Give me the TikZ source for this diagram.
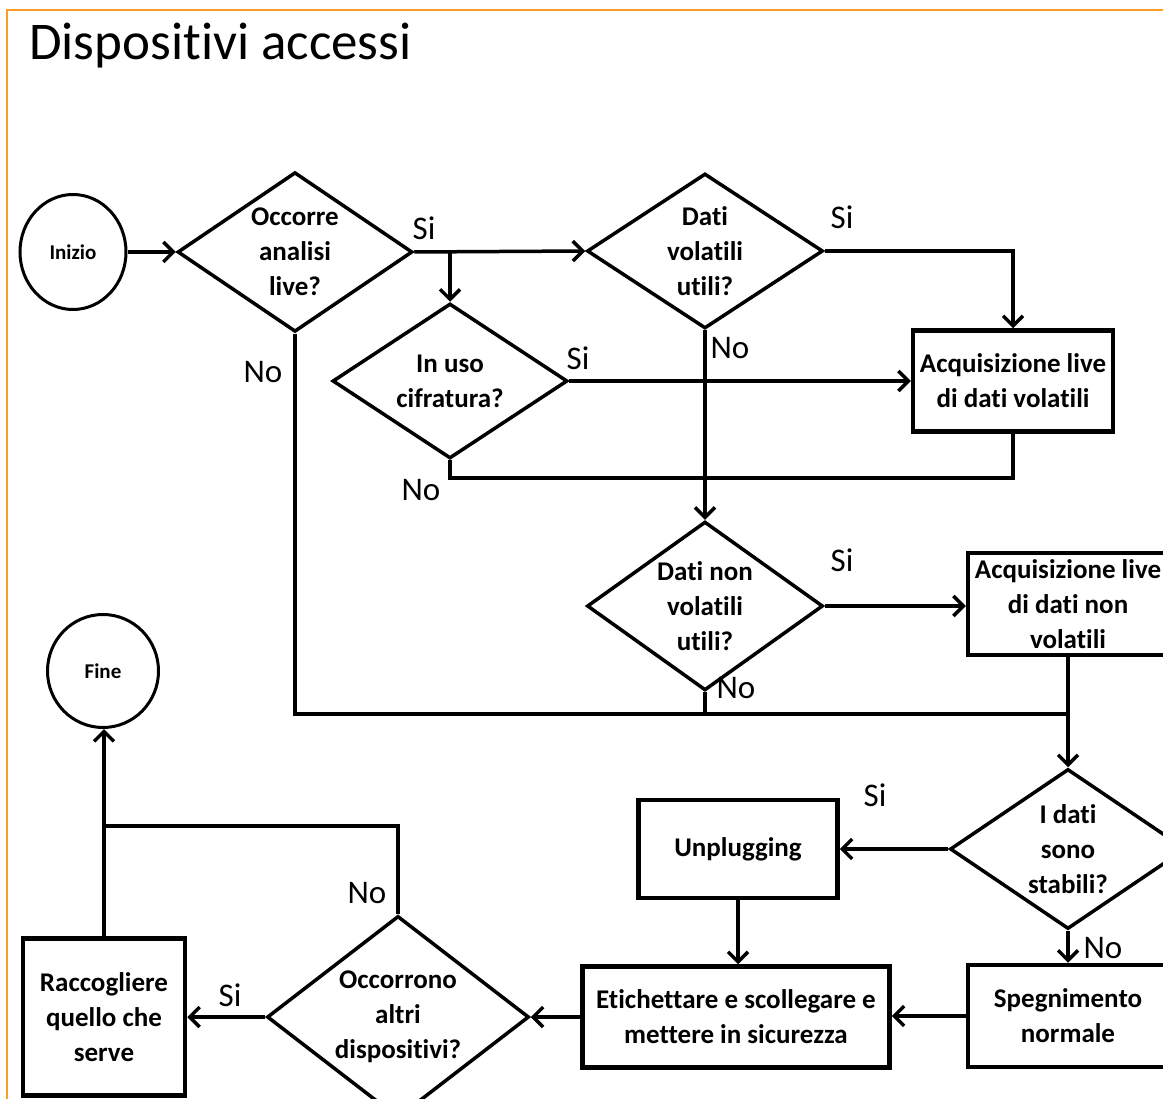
\documentclass[tikz,border=0pt]{standalone}
\usepackage{fontspec}
\setmainfont{Carlito}[Ligatures=NoCommon]
\usetikzlibrary{shapes.geometric,arrows.meta}
\definecolor{cornice}{RGB}{250,160,40}

\begin{document}
\begin{tikzpicture}[x=1pt,y=-1pt,
  txt/.style={font=\bfseries\fontsize{27}{35}\selectfont,align=center},
  domanda/.style={txt,draw,diamond,line width=3.5pt,inner sep=-4pt},
  blocco/.style={txt,draw,rectangle,line width=4.5pt,inner sep=0pt},
  terminale/.style={draw,ellipse,line width=3pt,inner sep=0pt,font=\bfseries\fontsize{21}{24}\selectfont},
  risp/.style={font=\fontsize{33}{36}\selectfont,inner sep=0pt},
  freccia/.style={line width=3.5pt,-{Straight Barb[length=10pt,width=20pt]}},
  linea/.style={line width=3.5pt}]
\useasboundingbox (0,0) rectangle (1163,1099);
\clip (0,0) rectangle (1163,1099);
\draw[line width=2pt,cornice] (7,1099) -- (7,10) -- (1163,10);

\node[anchor=base west,inner sep=0pt,font=\fontsize{53}{60}\selectfont] (titolo) at (29,60) {Dispositivi accessi};

% nodi
\node[terminale,minimum width=106pt,minimum height=115pt] (inizio) at (73,252) {Inizio};
\node[domanda,minimum width=235pt,minimum height=153pt] (d1) at (295,252) {Occorre\\analisi\\live?};
\node[domanda,minimum width=236pt,minimum height=155pt] (d2) at (705,251) {Dati\\volatili\\utili?};
\node[domanda,minimum width=235pt,minimum height=155pt] (d3) at (450,381) {In uso\\cifratura?};
\node[blocco,minimum width=200pt,minimum height=101pt] (acq1) at (1013,381) {Acquisizione live\\di dati volatili};
\node[domanda,minimum width=236pt,minimum height=158pt] (d4) at (705,606) {Dati non\\volatili\\utili?};
\node[blocco,minimum width=200pt,minimum height=102pt] (acq2) at (1068,604) {Acquisizione live\\di dati non\\volatili};
\node[domanda,minimum width=236pt,minimum height=160pt] (d5) at (1068,849) {I dati\\sono\\stabili?};
\node[blocco,minimum width=199pt,minimum height=98pt] (unpl) at (738,849) {Unplugging};
\node[blocco,minimum width=200pt,minimum height=102pt] (speg) at (1068,1016) {Spegnimento\\normale};
\node[blocco,minimum width=307pt,minimum height=101pt] (etic) at (736,1017) {Etichettare e scollegare e\\mettere in sicurezza};
\node[domanda,minimum width=262pt,minimum height=182pt] (d6) at (398,1017) {Occorrono\\altri\\dispositivi?};
\node[blocco,minimum width=162pt,minimum height=157pt] (racc) at (104,1017) {Raccogliere\\quello che\\serve};
\node[terminale,minimum width=111pt,minimum height=113pt] (fine) at (103,671) {Fine};

% risposte
\node[risp] (si1) at (424,228) {Si};
\node[risp] (no1) at (263,372) {No};
\node[risp] (si2) at (842,217) {Si};
\node[risp] (no2) at (730,348) {No};
\node[risp] (si3) at (578,358) {Si};
\node[risp] (no3) at (421,490) {No};
\node[risp] (si4) at (842,560) {Si};
\node[risp] (no4) at (736,688) {No};
\node[risp] (si5) at (875,795) {Si};
\node[risp] (no5) at (1103,948) {No};
\node[risp] (no6) at (367,893) {No};
\node[risp] (si6) at (230,995) {Si};

% collegamenti
\coordinate (j1) at (450,478);
\coordinate (j2) at (1068,714);
\coordinate (j3) at (104,826);

\draw[freccia] (inizio) -- (d1);
\draw[freccia] (d1.east) -- (d2.west);
\draw[freccia] (d3.north |- d1.east) -- (d3.north);
\draw[freccia] (d2.east) -| (acq1.north);
\draw[freccia] (d3.east) -- (d3.east -| acq1.west);
\draw[linea] (d3.south) -- (j1) -| (acq1.south);
\draw[freccia] (d2.south) -- (d4.north);
\draw[freccia] (d4.east) -- (d4.east -| acq2.west);
\draw[linea] (d1.south) |- (j2);
\draw[linea] (d4.south) -- (d4.south |- j2);
\draw[freccia] (acq2.south) -- (d5.north);
\draw[freccia] (d5.west) -- (unpl.east);
\draw[freccia] (unpl.south) -- (unpl.south |- etic.north);
\draw[freccia] (d5.south) -- (speg.north);
\draw[freccia] (speg.west) -- (speg.west -| etic.east);
\draw[freccia] (etic.west) -- (d6.east);
\draw[freccia] (d6.west) -- (d6.west -| racc.east);
\draw[linea] (d6.north) |- (j3);
\draw[freccia] (racc.north) -- (racc.north |- fine.south);
\end{tikzpicture}
\end{document}
